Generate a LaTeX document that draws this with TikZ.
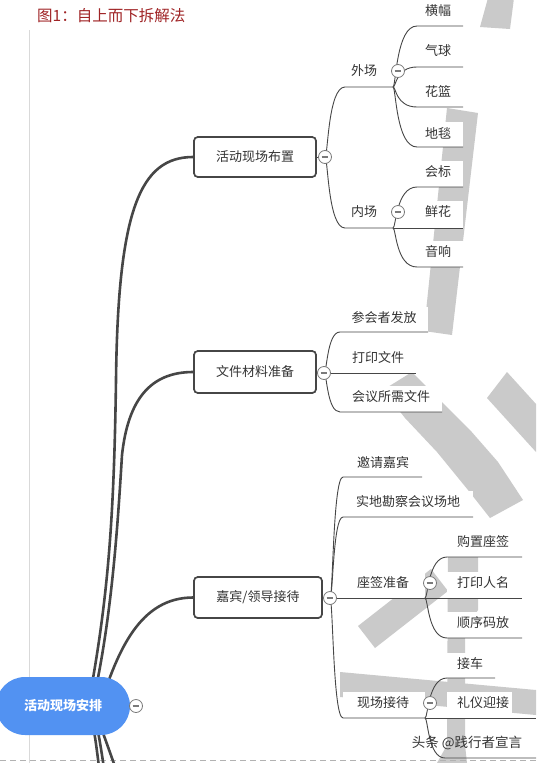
\documentclass[tikz,border=0pt]{standalone}
\usepackage{fontspec}
\setmainfont{Noto Sans CJK SC}
\usetikzlibrary{calc}
\definecolor{wm}{HTML}{CACACA}
\definecolor{rootblue}{HTML}{5292F2}
\definecolor{linec}{HTML}{464646}
\definecolor{txt}{HTML}{333333}
\definecolor{foldc}{HTML}{7A7A7A}
\definecolor{titlered}{HTML}{A02426}
\tikzset{
  mainline/.style={draw=linec, line width=2.6pt},
  subline/.style={draw=linec, line width=0.9pt},
  boxnode/.style={draw=linec, line width=1.6pt, rounded corners=4pt, fill=white, text=txt, font=\fontsize{13}{13}\selectfont},
  leaftext/.style={text=txt, font=\fontsize{13}{13}\selectfont, inner sep=0pt},
  fold/.style={circle, draw=foldc, fill=white, line width=0.8pt, minimum size=13pt, inner sep=0pt,
    path picture={\draw[line width=1.1pt, draw=foldc] ($(path picture bounding box.center)+(-3.4pt,0)$) -- ($(path picture bounding box.center)+(3.4pt,0)$);}},
}
% name, cx, cy, Lx, Rx, uy, text
\newcommand\mmleaf[7]{%
  \fill[white] (#4,#3-11) rectangle (#5,#6);
  \node[leaftext] (#1) at (#2,#3) {#7};
  \coordinate (#1-L) at (#4,#6);
  \coordinate (#1-R) at (#5,#6);
}
\newcommand\mmbranch[3]{\draw[subline] (#1) .. controls ($(#1)+(3,0)$) and ($(#1|-#2)+(3,0)$) .. (#2) -- (#3);}
\begin{document}
\begin{tikzpicture}[x=1pt,y=-1pt]
\useasboundingbox (0,0) rectangle (536,763);
\clip (0,0) rectangle (536,763);
\fill[white] (0,0) rectangle (536,763);
% watermark strokes
\fill[wm] (488,-2) -- (514,-2) -- (510,29) -- (480,27) -- cycle;
\fill[wm] (447,108) -- (478,113) -- (452,335) -- (424,331) -- cycle;
\fill[wm] (383,390) -- (405,418) -- (437,452) -- (468,490) -- (490,518) -- (523,500) -- (498,462) -- (470,430) -- (440,400) -- (412,372) -- cycle;
\fill[wm] (507,372) -- (536,404) -- (536,452) -- (487,398) -- cycle;
\fill[wm] (431,569) -- (448,591) -- (375,648) -- (358,626) -- cycle;
\fill[wm] (448,535) -- (478,535) -- (478,610) -- (465,630) -- (465,745) -- (467,763) -- (437,763) -- (447,745) -- cycle;
\fill[wm] (340,672) -- (536,690) -- (536,715) -- (340,697) -- cycle;
% page guides
\draw[draw=gray!30, line width=0.8pt] (29,30) -- (29,763);
\draw[draw=gray!60, line width=0.8pt, dash pattern=on 6pt off 4pt] (0,760) -- (536,760);
% main connectors
\coordinate (r1) at (88,706);
\coordinate (r2) at (92,706);
\coordinate (r3) at (100,706);
\coordinate (r4) at (89,706);
\coordinate (r5) at (92,706);
\coordinate (r6) at (93,706);
\coordinate (d1) at (100,775);
\coordinate (d2) at (105,775);
\coordinate (d3) at (118,775);
\node[boxnode, minimum width=122pt, minimum height=40pt] (b1) at (255,157) {活动现场布置};
\node[boxnode, minimum width=122pt, minimum height=42pt] (b2) at (255,372) {文件材料准备};
\node[boxnode, minimum width=128pt, minimum height=41pt] (b3) at (258,597.5) {嘉宾/领导接待};
\draw[mainline] (r1) .. controls (108,600) and (114,520) .. (116,380) .. controls (118,210) and (140,157) .. (b1.west);
\draw[mainline] (r2) .. controls (112,620) and (118,520) .. (122,455) .. controls (128,400) and (150,372) .. (b2.west);
\draw[mainline] (r3) .. controls (118,650) and (140,597.5) .. (b3.west);
\draw[mainline] (r4) .. controls (95,735) .. (d1);
\draw[mainline] (r5) .. controls (99,735) .. (d2);
\draw[mainline] (r6) .. controls (102,730) .. (d3);
% redraw boxes on top of the curves
\node[boxnode, minimum width=122pt, minimum height=40pt] at (b1) {活动现场布置};
\node[boxnode, minimum width=122pt, minimum height=42pt] at (b2) {文件材料准备};
\node[boxnode, minimum width=128pt, minimum height=41pt] at (b3) {嘉宾/领导接待};
% junctions
\coordinate (j1) at (325,157);
\coordinate (j2) at (324,373);
\coordinate (j3) at (330,598);
% level 3 and leaves
\mmleaf{waichang}{364}{71}{345}{393}{87}{外场}
\mmleaf{neichang}{364}{212}{345}{393}{228}{内场}
\mmleaf{hengfu}{438}{11}{417}{463}{26}{横幅}
\mmleaf{qiqiu}{438}{51}{417}{463}{67}{气球}
\mmleaf{hualan}{438}{92}{417}{463}{107}{花篮}
\mmleaf{ditan}{438}{133}{417}{463}{147}{地毯}
\mmleaf{huibiao}{438}{172}{417}{463}{187}{会标}
\mmleaf{xianhua}{438}{212}{417}{463}{228}{鲜花}
\mmleaf{yinxiang}{438}{252}{417}{463}{267}{音响}
\mmleaf{canhui}{384}{318}{340}{428}{332}{参会者发放}
\mmleaf{dayin}{378}{358}{340}{416}{373}{打印文件}
\mmleaf{huiyi}{391}{397}{340}{442}{412}{会议所需文件}
\mmleaf{yaoqing}{383}{463}{343}{422}{477}{邀请嘉宾}
\mmleaf{shidi}{408}{502}{343}{473}{517}{实地勘察会议场地}
\mmleaf{zuoqian}{383}{583}{343}{425}{598}{座签准备}
\mmleaf{xianchang}{383}{703}{343}{425}{718}{现场接待}
\mmleaf{gouzhi}{483}{542}{447}{522}{557}{购置座签}
\mmleaf{renming}{483}{583}{447}{522}{598}{打印人名}
\mmleaf{shunxu}{483}{623}{447}{522}{638}{顺序码放}
\mmleaf{jieche}{470}{664}{447}{495}{678}{接车}
\mmleaf{liyi}{483}{703}{447}{512}{718}{礼仪迎接}
\coordinate (liyi-E) at (536,718);
\coordinate (hid-L) at (445,758);
\coordinate (hid-R) at (536,758);
% sub connectors
\draw[subline] (b1.east) -- (j1);
\draw[subline] (b2.east) -- (j2);
\draw[subline] (b3.east) -- (j3);
\mmbranch{j1}{waichang-L}{waichang-R}
\mmbranch{j1}{neichang-L}{neichang-R}
\mmbranch{waichang-R}{hengfu-L}{hengfu-R}
\mmbranch{waichang-R}{qiqiu-L}{qiqiu-R}
\mmbranch{waichang-R}{hualan-L}{hualan-R}
\mmbranch{waichang-R}{ditan-L}{ditan-R}
\mmbranch{neichang-R}{huibiao-L}{huibiao-R}
\draw[subline] (neichang-R) -- (xianhua-R);
\mmbranch{neichang-R}{yinxiang-L}{yinxiang-R}
\mmbranch{j2}{canhui-L}{canhui-R}
\draw[subline] (j2) -- (dayin-R);
\mmbranch{j2}{huiyi-L}{huiyi-R}
\mmbranch{j3}{yaoqing-L}{yaoqing-R}
\mmbranch{j3}{shidi-L}{shidi-R}
\draw[subline] (j3) -- (zuoqian-R);
\mmbranch{j3}{xianchang-L}{xianchang-R}
\mmbranch{zuoqian-R}{gouzhi-L}{gouzhi-R}
\draw[subline] (zuoqian-R) -- (renming-R);
\mmbranch{zuoqian-R}{shunxu-L}{shunxu-R}
\mmbranch{xianchang-R}{jieche-L}{jieche-R}
\draw[subline] (xianchang-R) -- (liyi-E);
\mmbranch{xianchang-R}{hid-L}{hid-R}
% root
\node[fill=rootblue, rounded corners=29pt, minimum width=134pt, minimum height=58pt, inner sep=0pt,
      text=white, font=\fontsize{13}{13}\selectfont\bfseries] (root) at (63,706) {活动现场安排};
\node[fold] (c0) at (136,706) {};
\node[fold] (c1) at (j1) {};
\node[fold] (c2) at (j2) {};
\node[fold] (c3) at (j3) {};
\node[fold] (cw) at (398,71) {};
\node[fold] (cn) at (398,212) {};
\node[fold] (cz) at (430,583) {};
\node[fold] (cx) at (430,703) {};
% title and watermark text
\node[text=titlered, font=\fontsize{15.5}{16}\selectfont, anchor=west, inner sep=0pt] (title) at (37,16) {图1：自上而下拆解法};
\node[text=txt, font=\fontsize{13.5}{14}\selectfont, inner sep=0pt] (wmtext) at (467,743) {头条 @践行者宣言};
\end{tikzpicture}
\end{document}
